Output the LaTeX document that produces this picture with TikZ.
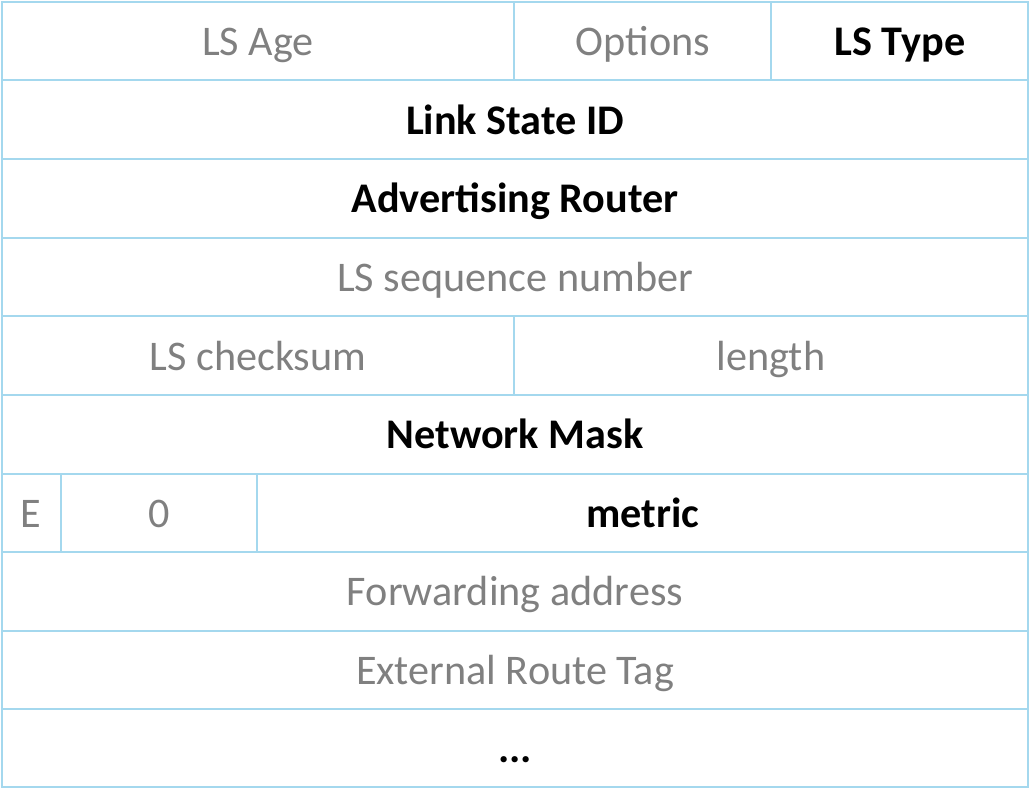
\documentclass[tikz,border=0pt]{standalone}
\usepackage{fontspec}
\setmainfont{Carlito}
\usepackage{xcolor}
\definecolor{gridblue}{RGB}{164,216,238}
\definecolor{fieldgray}{RGB}{128,128,128}

\begin{document}
\begin{tikzpicture}[x=0.025cm,y=-0.025cm,
  grid/.style={gridblue,line width=1.5pt},
  field/.style={font=\fontsize{30}{34}\selectfont,text=fieldgray,inner sep=0pt,anchor=base},
  keyfield/.style={field,text=black,font=\fontsize{30}{34}\selectfont\bfseries}]
\useasboundingbox (0,0) rectangle (1031,790);
% frame and rows
\draw[grid,line width=2pt] (2,2) rectangle (1028,787);
\foreach \y in {80,159,238,316,395,474,552,631,709}
  \draw[grid] (2,\y) -- (1028,\y);
\draw[grid] (514,2) -- (514,80);
\draw[grid] (771,2) -- (771,80);
\draw[grid] (514,316) -- (514,395);
\draw[grid] (61,474) -- (61,552);
\draw[grid] (257,474) -- (257,552);
% fields (placed on their baselines)
\node[field] (age) at (258,55){LS Age};
\node[field] (opts) at (643,55){Options};
\node[keyfield] (type) at (900,55){LS Type};
\node[keyfield] (lsid) at (515,134){Link State ID};
\node[keyfield] (advrtr) at (515,212){Advertising Router};
\node[field] (seq) at (515,291){LS sequence number};
\node[field] (csum) at (258,370){LS checksum};
\node[field] (len) at (771,370){length};
\node[keyfield] (mask) at (515,448){Network Mask};
\node[field] (ebit) at (31,527){E};
\node[field] (zero) at (159,527){0};
\node[keyfield] (metric) at (643,527){metric};
\node[field] (fwd) at (515,605){Forwarding address};
\node[field] (tag) at (515,684){External Route Tag};
\node[keyfield] (more) at (515,762){...};
\end{tikzpicture}
\end{document}
